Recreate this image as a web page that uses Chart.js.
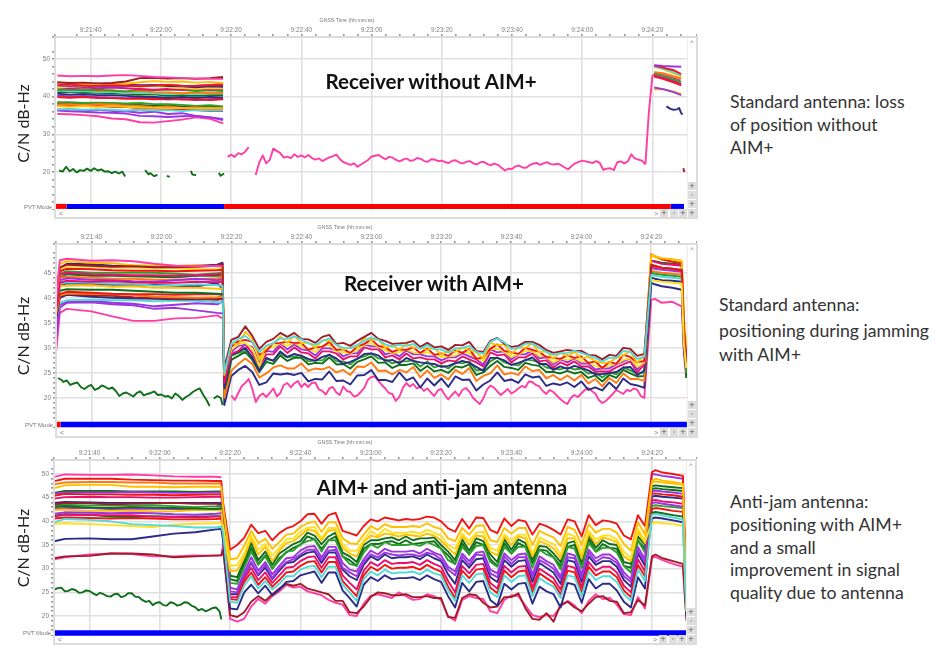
<!DOCTYPE html>
<html><head><meta charset="utf-8">
<script src="https://cdn.jsdelivr.net/npm/chart.js@4"></script>
<style>
html,body{margin:0;padding:0;background:#fff;width:940px;height:663px;overflow:hidden}
canvas{position:absolute;left:0;filter:blur(.4px)}
.t{position:absolute;white-space:nowrap;font-family:Lato,sans-serif;color:#1a1a1a}
.h{font-weight:700;font-size:20.6px;transform:translate(-50%,-50%);color:#111}
.n{font-size:17.7px;color:#333;transform:translateY(-50%)}
.s{font-family:"Liberation Sans",sans-serif;font-size:6px;color:#777;transform:translate(-50%,-50%);filter:blur(.25px)}
.frame{position:absolute;border:2px solid #dcdcdc;box-sizing:border-box;pointer-events:none}
.side{position:absolute;background:#fff;border-left:1px solid #eee;box-sizing:border-box}
.btn{position:absolute;width:8px;height:8px;background:#dedede;font:7px/8px "DejaVu Sans",sans-serif;color:#555;text-align:center}
</style></head><body>
<canvas id="c1" width="697" height="194" style="top:16px"></canvas>
<canvas id="c2" width="697" height="203" style="top:225px"></canvas>
<canvas id="c3" width="697" height="195" style="top:441px"></canvas>
<script>
const yTitle = "C/N dB-Hz";
const xTitle = "GNSS Time (hh:mm:ss)";
const C = {pink:"#ff3da5",red:"#f01515",dred:"#a01c28",orange:"#ff7a10",gold:"#ffc000",yellow:"#ffe020",green:"#2f9e2f",dgreen:"#0f6e1a",navy:"#2b2b88",purple:"#9c35e0",cyan:"#55d8d8",crim:"#e8106c"};

const jamT = [38,40,42,44,46,48,50,52,54,56,58,60,62,64,66,68,70,72,74,76,78,80,82,84,86,88,90,92,94,96,98,100,102,104,106,108,110,112,114,116,118,120,122,124,126,128,130,132,134,136,138,140,142,144,146,148,150,152,154,156,158];
const secT = [39,40,41,42,43,44,45,46,47,48,49,50,51,52,53,54,55,56,57,58,59,60,61,62,63,64,65,66,67,68,69,70,71,72,73,74,75,76,77,78,79,80,81,82,83,84,85,86,87,88,89,90,91,92,93,94,95,96,97,98,99,100,101,102,103,104,105,106,107,108,109,110,111,112,113,114,115,116,117,118,119,120,121,122,123,124,125,126,127,128,129,130,131,132,133,134,135,136,137,138,139,140,141,142,143,144,145,146,147,148,149,150,151,152,153,154,155,156,157,158];

/* ---------- panel 1: receiver without AIM+ ---------- */
const p1PreT = [-9.5,-6,-2,2,6,10,14,18,22,26,30,34,37.7];
const p1A = [45.6,45.4,45.5,45.4,45.6,45.7,45.5,45.2,45.1,44.9,44.8,44.7,44.7];
const p1B = [43.8,43.6,43.7,43.5,43.6,44,44.9,45,44.8,44.9,44.7,44.9,45.2];
const p1C = [43.5,43.7,43.4,43.3,43.5,43.4,43.8,44.1,43.9,44,43.7,43.9,43.6];
const p1D = [43.3,43.1,43,42.9,43.1,43,42.7,42.9,43.1,42.9,42.8,43,43];
const p1E = [42.9,42.7,42.9,42.6,42.8,42.7,43,42.9,43.1,42.8,42.9,43.1,43.4];
const p1F = [43.6,43.5,43.3,43.4,43.2,43.2,43,43.1,42.8,42.7,42.5,42.7,42.6];
const p1G = [42.5,42.6,42.8,43,42.8,42.9,42.6,42.8,42.5,42.3,42.1,42.3,42.2];
const p1H = [42.5,42.2,42.4,42.2,42.4,42.2,42,41.8,42,41.8,42.1,41.9,42];
const p1I = [41.8,41.9,41.7,41.8,41.6,41.4,41.9,41.7,41.9,41.8,41.5,41.7,41.5];
const p1J = [42.1,41.8,41.9,41.5,41.6,41.3,41.5,41.2,41.1,40.9,41.1,40.9,41];
const p1K = [41.6,41.4,41.5,41.2,41.3,40.9,41.1,40.9,40.7,40.9,40.7,40.9,40.9];
const p1L = [41.2,41.3,41.1,41,40.9,40.7,40.5,40.6,40.2,40.4,40.2,40.4,40.4];
const p1M = [40.8,40.5,40.7,40.4,40.4,40.2,40,39.9,39.7,39.9,39.7,39.9,39.8];
const p1N = [39.9,39.7,39.9,39.6,39.6,39.4,39.5,39.3,39.4,39.2,39.3,39.1,39.3];
const p1O = [40.4,40,40.2,39.9,39.8,39.6,39.8,39.4,39.2,39.4,39.1,39.3,39.5];
const p1P = [38.5,38.5,38.3,38.4,38.3,38.2,38.3,38,38,37.8,37.5,37.7,37.4];
const p1Q = [38.3,38.1,38.3,38,38,37.7,37.8,37.5,37.7,37.3,37.2,37.3,37.2];
const p1R = [38.1,37.9,38.1,37.8,37.9,37.6,37.4,37.3,37.1,37.2,36.9,37,36.9];
const p1S = [37.9,38,37.8,38,37.9,37.6,37.5,37.2,37.4,37,37.1,36.9,37];
const p1U = [37.7,37.8,37.6,37.6,37.4,37.2,37,36.9,37,36.7,36.8,36.6,36.6];
const p1V = [37.5,37.3,37.5,37.3,37.5,37.3,37.1,37,36.9,37,36.8,36.9,36.8];
const p1W = [38,37.7,37.8,37.5,37.3,37.3,37,36.9,36.6,36.4,36.4,36.2,36.2];
const p1X = [36.6,36.7,36.5,36.6,36.5,36.3,36.5,36.3,36.4,36.2,36.4,36.3,36.3];
const p1Y = [36.5,36.6,36.4,36.5,36.2,36.1,35.7,36,35.4,35.6,34.9,34.5,34.1];
const p1Z = [36.3,36.1,36,35.8,35.7,35.5,34.9,34.8,34.6,34.8,34.9,34.5,33.8];
const p1Low = [35.4,35.3,35.1,34.8,34.2,34,33.2,33.1,33.5,33.9,34.5,34.1,32.9];
const p1PostT = [160.5,163,166,168.2];
const p1Pa = [48.3,48.1,48,47.9];
const p1Pb = [48.2,47.7,47,46];
const p1Pc = [48,47.4,46.5,45.6];
const p1Pd = [47.9,47.3,46.2,45.4];
const p1Pe = [46.5,46.2,45.4,44.8];
const p1Pf = [46.1,45.5,44.6,43.9];
const p1Pg = [45.6,45,44.2,43.4];
const p1Ph = [45.3,44.7,43.8,43];
const p1Pi = [41.9,42,41.4,40.7];
const p1Pj = [42.4,42,41.2,40.4];
const p1NavyT = [164,165,166,167,167.6,168.2,168.6];
const p1Navy = [37.4,36.8,36.5,36.6,37,35.6,35.2];
const p1StubT = [168.8,169.1];
const p1Stub = [21,20];
const p1PinkHiT = [159,160,161,163,166,168];
const p1PinkHi = [36,45.5,46.1,46,45,44.3];
const p1Pink = [24,24.6,24,25,24.7,25.4,26.6,null,19.2,22.5,24.4,22.3,23.2,26.2,25.6,25,23.8,24.1,23.7,24.7,24,24.4,23.9,24.5,23.7,23.3,23.6,22.9,23.4,23.9,24.2,24.6,23.4,22.6,22.2,21.9,22.3,21.4,22,22.6,23.2,24.1,24.3,24.5,23.9,23.4,24,23.8,23.2,22.8,23.3,23.6,23,23.1,23.7,23.5,22.9,22.7,23.4,23.3,22.9,23,22.6,22.4,23,23.1,22.5,22.3,22.7,22.9,22.3,22,22.6,22.7,22.1,21.8,22.2,21.9,21.1,20.4,20.9,20.8,21.5,21.7,21.2,21.1,21.8,22.2,22.4,21.9,22.3,22.6,22.1,22,22.2,21.8,21.2,20.7,21.6,22.3,22.7,23,22.8,22.6,22.4,22.9,22.4,20.6,20.9,21,20.5,22.6,22.8,22.3,22.8,24.7,23.6,23.3,23,22];
const p1GreenT = [-9,-8,-7,-6,-5,-4,-3,-2,-1,0,1,2,3,4,5,6,7,8,9,9.8,10.5,15.5,16.5,17,18,19,20,21.7,22.5,24,28.5,29,30,32,36.5,37,38];
const p1Green = [20.4,20.1,21.4,20.2,20.8,19.9,20.5,20.3,20.9,20.3,21,20.4,20.7,20.1,20.2,19.7,20.1,19.6,20.1,18.8,null,20.5,19.4,19.7,18.9,19.2,null,19,18.7,null,20.3,19.3,19.2,null,19.8,19,19.6];
const p1PvtEdges = [-10.17,-6.9,38,165.2,169];
const p1PvtColors = ["#ff0000","#0000ff","#ff0000","#0000ff"];

/* ---------- panel 2: receiver with AIM+ ---------- */
const p2PreT = [-10,-9,-7,0,6,12,18,24,30,36,37.5];
const p2PostT = [160,161,163,166,168.7,169.3,170];
const p2DredPre = [41,46,46.6,46.4,46.2,46.3,46.1,46.1,46.2,46.4,46.8];
const p2DredJam = [26,31.6,32.2,34.3,32.4,29.8,31.2,31.8,33,32.2,33,31.8,31.7,31,32.2,32.6,30.8,31,30.4,31.4,32.2,33,31.8,31.4,30.8,30.9,31,31.4,30.2,31,30.1,30.3,29.6,30.6,30.5,31.2,29.4,29.2,31.4,32,30.8,30.2,30.4,31.2,31.2,30.6,29.6,29,29.3,29.6,29.4,29.4,28.6,28.5,27.7,28.6,28.4,30,29.8,28.4,28.8];
const p2DredPost = [46.6,46.4,46,45.8,45.6,34,28];
const p2CyanPre = [39,42.8,43.1,43,42.8,42.8,42.4,42.5,42.7,42.5,42.4];
const p2CyanJam = [25,30.8,31.8,32.4,31.2,29.2,30.4,31,31.9,31.8,32.3,31.7,30.9,30.6,31.4,31.9,30.6,30,29.9,30.6,31.4,32.1,31.6,30.7,30.3,30.6,30.4,30.8,29.8,30.6,29.7,29.7,29,29.9,30,30.4,29.2,28.8,31.2,31.9,31.1,29.8,30,30.8,30.9,30,29.2,28.6,28.9,29,29.4,29,28.5,28,27.3,28,28,29.4,29.2,27.8,28.2];
const p2CyanPost = [44.6,44.4,44.2,44,43.8,33,26];
const p2GoldPre = [38,46.8,47.3,47,46.9,46.5,46.4,46.4,46.5,46.3,46.3];
const p2GoldJam = [24.6,31,30.6,33.2,31.8,27.6,30.4,30.8,32.3,31,32.4,30.9,31.1,30,31.5,31.4,30.7,29.6,30.1,30.2,32,31.5,31.7,30,30.5,29.6,30.9,30,30.1,29.6,30,28.6,29.4,29.2,30,29.6,29.1,27.9,31,30.5,30.7,28.8,30.1,30,30.9,29.1,29.3,27.8,29.1,28.3,29.2,27.9,28.2,27.4,27,27.1,28,28.5,29.4,27,28.6];
const p2GoldPost = [48.6,48.3,47.9,47.7,47.4,36,30];
const p2RedPre = [38,45.3,45.8,45.7,45.5,45.4,45.4,45.3,45.4,45.5,45.6];
const p2RedJam = [24,30.3,31.3,31.6,31.2,28.6,29.4,30.9,31,31.2,31,31,29.6,30.1,30.2,31.2,29.6,29.7,29,30.3,30.8,31.7,30.4,30.1,29.2,29.7,29.6,30.1,29,29.9,28.6,28.9,28.4,29.5,29,29.8,27.8,28.1,29.8,30.7,29.4,29.1,28.8,30,29.6,29.2,28.2,28,27.8,28.5,28,28.3,27,27.3,26,27.2,26.8,28.6,28.2,27.1,27.4];
const p2RedPost = [48.7,48.3,47.7,47.2,46.9,33,28];
const p2YellowPre = [40,45.8,46.3,46.2,46,46,45.9,45.9,45.7,45.7,45.8];
const p2YellowJam = [25,29.6,30.8,31,29.9,26.4,29.9,30.1,31,30.4,31,30.3,29.8,29.2,30.4,30.6,29.3,29.1,28.9,29.6,30.7,30.9,30.3,29.5,29,29.1,29.7,29.1,28.9,29.1,28.7,28.2,28.3,28.5,29.2,28.9,28,27.4,29.7,29.8,29.3,28.2,28.7,29.4,29.4,28.4,28.3,27.1,27.8,27.6,28,27.3,27.2,26.4,26,26.5,26.8,27.6,27.9,26.2,27.1];
const p2YellowPost = [48.4,48.1,47.6,47.4,47.1,36,30];
const p2PurplePre = [40,43.5,43.9,43.6,43.5,43.3,43.2,43.5,43.8,43.5,43.7];
const p2PurpleJam = [24,29.2,30.4,30.6,30.2,27,29.4,29.2,30.9,29.7,30.7,29.7,29.5,28.5,29.9,29.9,29.5,28.3,28.9,28.9,30.7,30.3,30.3,28.7,29.1,28.3,29.5,28.7,28.7,28.3,28.3,27.5,28.1,28.1,28.9,28.3,27.7,26.7,29.7,29.1,29.3,27.7,28.7,28.7,29.5,27.9,28.1,26.7,27.7,27.1,27.9,26.9,26.9,25.7,25.9,25.9,26.7,27.3,27.9,25.7,27.3];
const p2PurplePost = [46,45.8,45.6,45.4,45.2,34,26];
const p2CrimPre = [39,44.6,45,44.7,44.6,44.5,44.5,44.4,44.5,44.7,44.7];
const p2CrimJam = [23,28.8,29.4,30.7,28.9,26.4,28.7,28.7,30.3,29,30.1,29.1,28.9,27.9,29.3,29.3,28.9,27.7,28.3,28.3,30.1,29.7,29.7,28.1,28.5,27.7,28.9,27.9,28.1,27.7,27.7,26.9,27.5,27.3,28.3,27.7,27.1,26.3,29.1,28.5,28.7,27.1,28.1,28.1,28.9,27.3,27.5,26.1,27.1,26.5,27.3,26.3,26.3,25.3,25.3,25.3,26.1,26.7,27.3,25.1,26.7];
const p2CrimPost = [47.4,47.2,46.8,46.6,46.4,35,27];
const p2BluePre = [38,42.4,42.9,42.8,42.6,42.6,42.6,42.4,42.3,42.9,41.8];
const p2BlueJam = [22,28.6,29.2,30,28,25.4,28,27.4,29.3,28.2,28.8,28.4,27.8,27.4,28.2,28.6,27.9,26.8,27.2,27.8,28.8,28.9,28.5,27.4,27.6,26.9,28,27.4,27.1,26.9,26.8,26.2,26.4,26.9,27.4,27,26.2,25.4,28,28,27.5,26.6,27,27.5,28.1,26.8,26.8,25.6,26.3,25.8,26.4,26,25.5,24.7,24.8,25,25.2,26.1,26.2,24.6,25.5];
const p2BluePost = [44,43.8,43.5,43.4,43.2,32,26];
const p2GreenPre = [41,44.8,45.3,45,45,45,45,44.8,44.6,44.9,45.1];
const p2GreenJam = [24,28.4,29,29.4,28.3,25.7,27.7,27.5,28.9,28.1,28.3,28.5,27.3,27.5,27.5,28.7,27.3,27.3,26.7,27.9,28.3,28.9,27.9,27.7,26.9,27.3,27.3,27.5,26.3,27.3,26.1,26.5,25.9,27.1,26.9,27.3,25.5,25.7,27.3,28.1,27.1,26.7,26.5,27.7,27.5,27.1,26.1,25.9,25.7,26.1,25.7,25.9,24.9,25.1,24.1,25.1,24.7,26.1,25.5,24.9,25.1];
const p2GreenPost = [45,44.8,44.6,44.4,44.2,33,25];
const p2DgreenPre = [41,44,44.7,44.4,44.4,44.3,44.2,44.1,44.4,44.4,44.5];
const p2DgreenJam = [20,27.6,28.4,29.2,27.6,25.2,27.2,26.8,28.5,27.4,28,28,26.7,27,26.9,28.1,26.7,26.8,25.9,27.2,27.7,28.3,27,27.1,26,26.6,26.6,26.9,25.4,26.4,25.3,25.6,25,26.3,26.1,26.7,24.6,25.1,26.4,27.4,26.2,26,25.6,27,26.6,26.4,25.2,25.2,24.9,25.4,24.9,25.2,24,24.5,23.3,24.6,24,25.6,24.9,24.3,24.4];
const p2DgreenPost = [47.4,47.3,47,46.8,46.6,36,24];
const p2OrangePre = [40,44,44.2,44,43.8,43.8,43.6,43.6,43.7,43.9,44];
const p2OrangeJam = [20,25.4,26.8,27.9,26.8,24.1,24.9,26.1,26.5,25.9,25.9,26.9,25.4,25.9,25.7,26.2,25.1,25.6,24.6,26.3,26.2,27.1,25.4,25.5,24.7,25.6,25.1,26.2,24.1,25.5,24,24.7,23.7,25.6,24.8,26,23.4,24.4,24.9,26.5,24.7,25,24.6,26.3,25.4,25.6,23.9,24.6,23.6,24.5,23.5,24.6,22.9,23.8,22.3,24,23,24.9,23.8,23.8,23.4];
const p2OrangePost = [45.4,45.2,45,44.8,44.6,33,25];
const p2NavyPre = [41,46,46.8,46.7,46.4,46.3,46.3,46.2,46.4,46.6,47];
const p2NavyJam = [18.6,24.4,25.6,26.4,25.2,22.6,23.1,24.9,24.7,24.9,24.6,25,23.3,23.8,23.7,25.3,23.4,23.5,22.7,24.5,24.6,25.6,23.6,23.6,23.2,25.1,23.5,24.1,22.1,23.9,22.5,23.9,22.2,24.3,23.6,23.7,21.5,22.7,23.5,25.1,23.4,23.7,23,24.7,24.1,24.3,22.4,22.9,22.6,23.1,22.2,23.3,21.6,22.1,21.5,23.1,21.8,23.9,22.8,22.5,22];
const p2NavyPost = [43,42.7,42.3,42,41.6,30,25];
const p2PinkPre = [29.5,37,37.8,37.3,36.3,35.4,35.4,35.9,36,36.5,35.9];
const p2Pink = [null,20.5,19.6,21,22.4,23,23.8,21.8,19.2,20.4,20.9,20.2,21,21.9,20.3,21,22.6,23,22.1,22.9,23.4,22.2,22.9,22.2,23,23.1,21.7,21.4,20.7,21.9,22.2,21.1,20.6,22.3,21.4,21.2,20.3,20.5,21.2,22,23.6,24.2,24.3,23.4,22.6,21.9,21,20.8,19.4,20.2,22,23,22.3,22.8,21.9,22.3,21.4,21.9,21.1,20.4,21.5,21.8,20.6,19.7,20.6,21.3,20.4,21.6,22,21.3,20.1,19.4,18.8,19.9,21.6,22.5,22.1,21.3,20.6,21.2,21.8,20.9,21.3,21.9,22.4,22.1,23.3,23.2,22.6,22.3,21.4,20.8,21.6,21.2,20.5,19.8,19.2,18.8,20,20.6,20.2,20.9,21.6,22,21.4,20.9,19.6,19,19.4,20.1,20.8,21.6,21.2,20.8,21.6,21.4,21.9,21.6,20.4,20];
const p2PinkPost = [39.6,39.8,39,39.2,38.3,29,24];
const p2X1 = [40,47.5,47.8,47.4,47.5,47.3,46.8,46.4,46.3,46.4,46.2];
const p2X3 = [38,43,43.4,43.2,43.3,43.1,43,43,43.2,43.1,43.2];
const p2X6 = [39,42.4,42.4,42.5,42.2,42.3,42,42,42,41.8,41.8];
const p2X7 = [39,41.4,41.7,41.6,41.6,41.4,41.2,41,41,40.8,40.7];
const p2X8 = [38,40.8,41.2,41,40.8,40.7,40.7,40.6,40.7,40.7,40.6];
const p2X9 = [37,40.5,40.8,40.8,40.7,40.6,40.2,40.1,40,40.1,40.3];
const p2X10 = [36,40.3,40.8,40.5,40.4,40.1,40,39.8,39.9,39.6,39.8];
const p2X11 = [36,40,40.6,40.2,40,39.9,39.8,39.7,39.7,39.7,39.8];
const p2X12 = [36,39,39.5,39.6,39.5,39.5,39.3,39.4,39.4,39.1,39];
const p2X13 = [34,38.6,39.2,39.4,39,38.8,38.3,38.6,38.9,38.7,39.3];
const p2X14 = [32,38,39,39.1,38.7,38.5,37.8,38,37.5,37,36.9];
const p2Y3 = [43.6,43.4,43.2,43,42.8,31,26];
const p2Y4 = [46.4,46.2,46,45.8,45.4,34,27];
const p2LowT = [-9.5,-8.5,-8,-7,-6,-5,-4,-3,-2,-1,0,1,2,3,4,5,6,7,8,9,10,11,12,13,14,15,16,17,18,19,20,21,22,23,24,25,26,27,28,29,30,31,32,33,33.8,34.5,35,36,37,37.5];
const p2Low = [24,23.6,23.2,23.5,22.6,22.9,23.1,22.2,21.8,22.3,22.6,21.6,21.9,22.5,22.2,21.8,22.1,21.4,20.4,20.9,21.1,20.7,20.3,21,21.3,20.5,20.8,21,21.3,20.6,20.7,20.3,20.4,19.9,20.9,20.4,19.6,20.2,20.6,21.2,21.6,21.9,20.6,19.5,18.4,null,19.9,20.4,20,18.6];
const p2PvtEdges = [-10.09,-8.8,170.4];
const p2PvtColors = ["#ff0000","#0000ff"];

/* ---------- panel 3: AIM+ and anti-jam antenna ---------- */
const p3PreT = [-10,-7,0,6,12,18,24,30,36,37.5];
const p3PostT = [160,161,163,166,168.8,169.8];
const p3RedPre = [48.5,49,49,49,48.8,48.7,48.6,48.6,48.5,48.5];
const p3RedJam = [44,34,35,36.5,39.3,37.5,38,36,37.5,38.5,39,40,41.5,41.6,39.5,41.3,41.8,38,37.5,37,39,40.4,40,40.8,40.5,40.2,40.5,40.3,40.5,41,40.8,40,38.5,37.8,40.5,38.5,40.8,40.7,38.2,37.5,40.6,39,40.3,40,37.2,39.5,39,38.2,37.2,40.4,40,36.8,41.3,39.2,40.2,40,39.5,37,36.2,41.3,39];
const p3RedPost = [50.4,50.8,50.3,50,49.6,24];
const p3GoldPre = [47,47.6,47.7,47.7,47.3,47.3,47.2,47.3,47.3,47.3];
const p3GoldJam = [43,32,32.2,34.8,38,35.4,36.3,34.2,35.6,37.2,37.4,38.8,39.6,40,37.8,39.8,39.8,36.4,35.4,35.2,37.2,39,38.2,39.4,38.8,38.8,38.8,39,38.8,39.6,38.8,38.4,36.4,35.8,38.6,37.2,39,39.2,36,35.6,38.6,37.4,38.6,38.6,35,38,37.2,36.6,34.8,38.8,38.2,35,39.4,37.6,38.4,38.4,37.6,35.2,33.8,39.8,37.2];
const p3GoldPost = [48.5,49,48.6,48.3,47.9,22];
const p3YellowPre = [39.5,39.6,39.4,39.2,39,38.8,39.3,39.5,39.6,39.6];
const p3YellowJam = [39,30.5,30.8,33.2,37,34,35.2,32.8,34.4,36.2,36.4,37.8,38.6,38.8,36.4,38.6,38.6,35.2,33.8,33.8,36,38,37,38.4,37.6,37.6,37.6,37.8,37.4,38.2,37.6,37,35,34.2,37.4,35.8,37.6,37.8,34.4,33.8,37.2,36,37.2,37.2,33.2,36.6,35.8,35.2,33,37.4,36.8,33.2,38,36.2,37,37,36.2,33.6,32.2,38.4,35.8];
const p3YellowPost = [39.6,39.8,39.6,39.4,39,21];
const p3Gold2Pre = [42.4,42.5,42.2,42.2,42.3,42.1,42.1,42.4,42.4,42.3];
const p3Gold2Jam = [38,29.5,29.6,32.4,36.4,33,34.6,31.6,33.8,35.4,35.8,37,38.2,38,36,38,38.2,34.4,33.2,32.6,35.6,37,36.6,37.4,37.2,36.8,37.2,37,36.8,37.4,37,36,34.4,33,37,35,37,36.8,33.6,32.8,36.8,35,36.8,36.4,32.6,35.8,35.2,34.2,32.2,36.4,36.4,32.2,37.4,35.2,36.6,36.2,35.6,32.6,31.6,37.8,35.4];
const p3Gold2Post = [48.3,48.4,48.2,48,47.7,21];
const p3DgreenPre = [46,46.4,46.4,46.4,46.3,46.3,46.3,46.2,46.3,46.3];
const p3DgreenJam = [41,28.5,28.2,31.6,35.4,31.8,33.6,30.8,33.2,34.2,35.2,35.8,37.6,37,35.2,36.8,37.6,33.4,32.6,31.4,35,36,36,36.4,36.6,36,36.8,36,36.4,36.4,36.6,35,33.6,31.8,36.2,33.8,36.4,35.8,33,31.4,36.2,34,36.2,35.4,32,34.8,34.6,33.2,31.4,35.4,35.8,31,37,34.4,36,35.2,35,31.4,31,36.8,35];
const p3DgreenPost = [47.4,47.6,47.4,47.2,47,21];
const p3Dgreen2Pre = [41.2,41.5,41.4,41,40.9,41.1,41,41,41.1,41.1];
const p3Dgreen2Jam = [39,27.8,27.4,30.8,34.4,31,32.8,30,32.2,33.4,34.4,35,36.8,36.2,34.2,36,36.8,32.6,31.8,30.6,34.2,35.2,35.2,35.6,35.8,35.2,36,35.2,35.4,35.6,35.8,34.2,32.8,31,35.4,33,35.6,35,32,30.6,35.4,33.2,35.4,34.6,31.2,34,33.8,32.4,30.6,34.6,35,30.2,36.2,33.6,35.2,34.4,34.2,30.6,30.2,36,34.2];
const p3Dgreen2Post = [46.8,47,46.8,46.6,46.4,21];
const p3GreenPre = [43.4,43.5,43.3,43.4,43.3,43.4,43.2,43,43.2,43.3];
const p3GreenJam = [40,27,26.8,30.2,33.6,30.8,32.6,30,31.8,33.6,33.8,35.2,35.8,36.2,33.6,36,36,32.6,31,30.6,33.4,35.2,34.4,35.6,35,35,35,35.2,34.8,35.6,35,34.2,31.8,31,34.6,33,34.8,35,31.4,30.4,34.6,33.2,34.6,34.6,30.2,34,33,32.4,29.8,34.6,34.2,30.2,35.4,33.6,34.4,34.4,33.4,30.6,29.2,36,33.4];
const p3GreenPost = [43.2,43.4,43.2,43,42.8,22];
const p3PurplePre = [42.6,42.8,42.8,42.6,42.6,42.7,42.6,42.4,42.7,42.7];
const p3PurpleJam = [39.5,26,25.6,29.2,32.4,29.6,31.4,28.8,30.6,32.2,32.4,33.8,34.6,34.8,32.4,34.6,34.6,31.2,29.8,29.4,32,33.8,33,34.2,33.6,33.6,33.6,33.8,33.2,34.2,33.4,32.8,30.4,29.4,33.2,31.6,33.4,33.6,29.8,29,33.2,31.8,33,33.2,28.8,32.6,31.6,30.8,28.4,33.2,32.8,28.8,34,32.2,33,33,31.8,29.2,27.8,34.6,32];
const p3PurplePost = [50,49.9,49.6,49.3,49,22];
const p3Purple2Pre = [45.8,46.1,46.1,46.1,46.2,46.1,46,46,46.1,46.1];
const p3Purple2Jam = [38.5,25.2,25,28.4,31.4,28.8,30.8,28,30,31.4,32,33,34,34,31.8,33.8,34,30.2,29.2,28.4,31.4,33,32.4,33.4,33,32.8,33,33,32.6,33.4,33,32,29.8,28.6,32.6,30.8,33,32.8,29,28.2,32.6,31,32.4,32.4,28.2,31.8,31,30,27.8,32.4,32.2,28,33.4,31.4,32.4,32.2,31.2,28.4,27.2,33.8,31.4];
const p3Purple2Post = [46.3,46.5,46.3,46.1,45.8,22];
const p3NavyPre = [35.8,36.3,36.4,36.2,36.2,36.8,37.4,37.7,38.3,38.4];
const p3NavyJam = [36,24.6,24.6,28.4,31.2,28.6,30.2,27.8,29.6,31.2,31.4,32.6,33.4,33.6,31.2,33.4,33.4,29.8,28.4,27.6,30.8,32.6,31.8,33,32.2,32.4,32.4,32.6,32,33,32.2,31.6,28.8,26.8,31.8,30.2,32,32.2,28.2,27.2,31.8,30.4,31.6,31.8,27.2,31.2,30.2,29.2,26.8,31.8,31.4,27.2,32.6,30.8,31.6,31.6,30.4,27.6,26.2,33.2,30.6];
const p3NavyPost = [40.6,40.8,40.6,40.2,39.8,20];
const p3CrimPre = [41,41.4,41.3,41.3,41.3,41,40.9,40.8,41,41];
const p3CrimJam = [38.5,24,24,27.8,30.2,27.6,29.2,27,28.6,30.2,30.4,31.6,32.4,32.6,30.2,32.4,32.4,28.6,27,25.6,29.6,31.4,30.6,31.8,31,31.2,31.2,31.4,30.8,31.8,31,30.4,27.4,25,30.6,29,30.8,31,27,25.8,30.6,29.2,30.4,30.6,26,30,29,28,25.6,30.6,30.2,26,31.4,29.6,30.4,30.4,29.2,26.4,25,32,29.4];
const p3CrimPost = [44.4,44.5,44.2,44,43.7,23];
const p3Red2Pre = [40.6,40.8,40.7,40.6,40.7,40.6,40.4,40.4,40.5,40.6];
const p3Red2Jam = [38,23.6,23.4,27.2,29.2,26.6,28.2,26.2,27.6,29.2,29.4,30.6,31.4,31.6,29.2,31.4,31.4,27.4,25.8,24.2,28.6,30.4,29.6,30.8,30,30.2,30.2,30.4,29.8,30.8,30,29.4,26.2,23.8,29.6,28,29.8,30,26,24.8,29.6,28.2,29.4,29.6,25,29,28,27,24.6,29.6,29.2,25,30.4,28.6,29.4,29.4,28.2,25.4,24,30.8,28.4];
const p3Red2Post = [42.6,42.8,42.6,42.2,42,22];
const p3CyanPre = [39.8,40.5,40.3,40,39.4,39.2,39,38.7,38.7,38.9];
const p3CyanJam = [37.5,23,22.8,26.4,28.4,25.8,27.4,25.6,26.8,28.4,28.4,29.8,30.4,30.6,28.2,30.4,30.4,26.6,25,23.2,27.8,29.4,28.6,29.8,29,29.2,29.2,29.4,28.8,29.8,29,28.6,25.4,23.2,28.6,27,28.8,29,25,24,28.6,27.2,28.4,28.6,24.2,28,27,26.2,23.8,28.6,28.2,24.2,29.4,27.6,28.4,28.4,27.2,24.6,23.2,29.8,27.4];
const p3CyanPost = [41.4,41.6,41.2,40.8,40.4,21];
const p3Navy2Pre = [43.9,44.1,44,43.9,43.9,43.9,43.9,43.9,43.9,43.9];
const p3Navy2Jam = [36,21.6,21.4,25,26.6,24.8,26.4,24.4,25.6,27.2,27.4,28.6,29,29.4,27,29.2,29.2,25.4,23.8,22,26.6,28.2,27.4,28.6,27.8,28,28,28.2,27.6,28.6,27.8,27.2,24.2,21.8,27,25.2,27.2,27.4,23.4,22.2,26.8,25.6,26.8,27,22.6,26.2,25.2,24.6,21.8,27,26.6,22.8,27.8,25.8,26.8,26.8,25.4,23,21.8,28.2,25.8];
const p3Navy2Post = [45.2,45.4,45.2,45,44.8,20];
const p3PinkPre = [32,32.4,33,33.2,33.1,32.6,32.6,32.8,32.7,32.8];
const p3PinkJam = [35,19.4,18.8,19.4,22,23.6,22.6,24.2,25.2,26.6,26,26.2,25.2,24.8,24.4,23.4,22.8,22.4,20.2,20,22.6,24.3,24.6,24.2,23.8,25,24.2,23.4,23.6,24.6,24.2,23.4,20,19,23.4,24.2,23.8,23.6,21,20.6,23.4,24.4,24.2,22.2,20.2,19.8,20.2,20,22,23.2,22.2,20.6,23.2,24.6,23.6,23.8,22.4,20.4,20.2,24,21.6];
const p3PinkPost = [32.3,32.5,31.8,31,30.4,19.5];
const p3DredPre = [32.2,32.6,32.7,33.2,33.2,33,32.4,32.6,32.8,32.8];
const p3DredJam = [34,20.2,19.8,20.8,23,24.2,23.2,24.6,25.8,26.8,26.4,26.8,25.8,25.4,25,24.6,23.2,23.2,20.8,20.6,22,24,25,24.8,24.4,24.4,24.6,24,24,24.2,23.8,23.8,19.8,19.6,23.8,24.6,24.4,22.8,21.8,22,24,24,24.8,21.6,19.4,19.2,20.6,18.8,22.4,23,21.8,21,22.6,24,24.2,23.2,23,20.6,20.8,23.4,22.2];
const p3DredPost = [32.6,33,32.2,31.6,31,19];
const p3X1 = [49.4,49.9,49.8,49.8,49.9,49.7,49.5,49.4,49.4,49.3];
const p3X2 = [47.8,48.2,48.3,48.3,48.2,48.2,48,48,48,48];
const p3X4 = [45.4,45.8,45.7,45.7,45.6,45.6,45.5,45.6,45.7,45.7];
const p3X5 = [44.8,45.1,45.2,45.1,45.1,45,45,45.1,45.2,45.2];
const p3X6 = [43.6,43.9,43.8,43.6,43.7,43.8,43.9,43.7,43.7,43.6];
const p3X7 = [43,43.2,42.9,42.8,43,42.9,42.8,42.7,42.6,42.7];
const p3X9 = [41.6,41.9,41.8,41.7,41.8,41.7,41.5,41.4,41.6,41.7];
const p3Y4 = [45.8,45.9,45.7,45.5,45.2];
const p3Y5 = [43.8,44,43.7,43.4,43.1];
const p3Y6 = [41.8,42,41.7,41.3,41];
const p3Post5T = [160,161,163,166,168.8];
const p3LowT = [-10,-9,-8,-7,-6,-5,-4,-3,-2,-1,0,1,2,3,4,5,6,7,8,9,10,11,12,13,14,15,16,17,18,19,20,21,22,23,24,25,26,27,28,29,30,31,32,33,34,35,36,37,37.5];
const p3Low = [25.6,25.9,26,25.2,25.3,25.7,25.5,24.9,25,25.4,25.3,24.8,24.4,24.9,24.6,24.2,24.1,24.6,24.7,24,24.2,24.8,24.8,24.1,24,23.4,23,23.2,22.3,22.8,22.9,22.3,22.2,22.9,22.7,22.2,22.4,22.9,22.8,22.2,21.9,21.2,21.5,21,21.3,21.7,21.8,21,19.3];
const p3PvtEdges = [-10.09,170.4];
const p3PvtColors = ["#0000ff"];

/* ---------- assembly ---------- */
const p2T = [...p2PreT, ...jamT, ...p2PostT];
const p2PinkT = [...p2PreT, ...secT, ...p2PostT];
const p3T = [...p3PreT, ...jamT, ...p3PostT];
const line = (t, v, color, w) => ({
  data: v.map((y, i) => ({x: t[i], y})), borderColor: color, borderWidth: w || 1.9,
  pointRadius: 0, fill: false, tension: 0, spanGaps: false, borderJoinStyle: "round"
});
const full = (t, color, ...parts) => line(t, [].concat(...parts), color);
const strip = (edges, colors, y, w) => colors.map((c, i) => line([edges[i], edges[i+1]], [y, y], c, w));
const pad = (n) => String(n).padStart(2, "0");
const fmt = (s) => { const t = 33700 + s; return Math.floor(t/3600) + ":" + pad(Math.floor(t%3600/60)) + ":" + pad(t%60); };
const noPad = (s) => { s.paddingTop = 0; s.paddingBottom = 0; s.paddingLeft = 0; s.paddingRight = 0; };

function panel(id, H, L, xmin, xmax, ymin, ymax, ystep, isLabel, datasets) {
  new Chart(document.getElementById(id), {
    type: "line",
    data: {datasets},
    options: {
      responsive: false, animation: false, events: [],
      layout: {padding: 0, autoPadding: false},
      plugins: {legend: {display: false}, tooltip: {enabled: false}},
      scales: {
        x: {
          type: "linear", position: "top", min: xmin, max: xmax, afterFit: s => { s.height = H; noPad(s); },
          border: {color: "#d8d8d8", width: 1},
          grid: {color: c => c.tick && c.tick.value % 20 === 0 ? "#e0e0e0" : "rgba(0,0,0,0)", lineWidth: 1.6, tickColor: "#999", tickLength: 3, drawTicks: true},
          ticks: {stepSize: 4, autoSkip: false, maxRotation: 0, padding: 0, color: "#808080", font: {family: "Liberation Sans", size: 6.5}, callback: v => v % 20 === 0 ? fmt(v) : ""}
        },
        y: {
          min: ymin, max: ymax, afterFit: s => { s.width = L; noPad(s); },
          border: {color: "#d8d8d8", width: 1},
          grid: {color: c => c.tick && isLabel(c.tick.value) ? "#e0e0e0" : "rgba(0,0,0,0)", lineWidth: 1.6, tickColor: "#999", tickLength: 3},
          ticks: {stepSize: ystep, autoSkip: false, padding: 2, color: "#808080", font: {family: "Liberation Sans", size: 6.5}, callback: v => isLabel(v) ? String(v) : ""},
          title: {display: true, text: yTitle, color: "#222", font: {family: "Lato", size: 16}, padding: {top: 14, bottom: 0}}
        }
      }
    }
  });
}

const p1Sets = [
  ...[[p1A,C.pink],[p1B,C.dred],[p1C,C.gold],[p1D,C.red],[p1E,C.purple],[p1F,C.navy],[p1G,C.yellow],[p1H,C.crim],[p1I,C.green],[p1J,C.orange],[p1K,C.cyan],[p1L,C.dgreen],[p1M,C.navy],[p1N,C.red],[p1O,C.purple],[p1X,C.cyan],[p1V,C.gold],[p1S,C.orange],[p1P,C.green],[p1U,C.red],[p1W,C.crim],[p1R,C.navy],[p1Q,C.dgreen],[p1Y,C.purple],[p1Z,C.purple],[p1Low,C.pink]].map(a => line(p1PreT, a[0], a[1])),
  ...[[p1Pa,C.purple],[p1Pb,C.red],[p1Pc,C.cyan],[p1Pd,C.gold],[p1Pe,C.orange],[p1Pf,C.green],[p1Pg,C.crim],[p1Ph,C.red],[p1Pj,C.purple],[p1Pi,C.gold]].map(a => line(p1PostT, a[0], a[1])),
  line(p1NavyT, p1Navy, C.navy), line(p1StubT, p1Stub, C.dred),
  line(secT, p1Pink, C.pink), line([158, ...p1PinkHiT], [22, ...p1PinkHi], C.pink), line(p1GreenT, p1Green, C.dgreen),
  ...strip(p1PvtEdges, p1PvtColors, 10.87, 5)
];

const p2Sets = [
  ...[[p2X1,C.pink],[p2X3,C.crim],[p2X6,C.gold],[p2X7,C.dgreen],[p2X8,C.red],[p2X9,C.orange],[p2X10,C.dred],[p2X11,C.navy],[p2X12,C.cyan],[p2X13,C.purple],[p2X14,C.purple]].map(a => line(p2PreT, a[0], a[1])),
  ...[[p2Y3,C.yellow],[p2Y4,C.red]].map(a => line(p2PostT, a[0], a[1])),
  full(p2T,C.cyan,p2CyanPre,p2CyanJam,p2CyanPost),
  full(p2T,C.dred,p2DredPre,p2DredJam,p2DredPost),
  full(p2T,C.gold,p2GoldPre,p2GoldJam,p2GoldPost),
  full(p2T,C.red,p2RedPre,p2RedJam,p2RedPost),
  full(p2T,C.yellow,p2YellowPre,p2YellowJam,p2YellowPost),
  full(p2T,C.purple,p2PurplePre,p2PurpleJam,p2PurplePost),
  full(p2T,C.crim,p2CrimPre,p2CrimJam,p2CrimPost),
  full(p2T,C.navy,p2BluePre,p2BlueJam,p2BluePost),
  full(p2T,C.green,p2GreenPre,p2GreenJam,p2GreenPost),
  full(p2T,C.orange,p2OrangePre,p2OrangeJam,p2OrangePost),
  full(p2T,C.dgreen,p2DgreenPre,p2DgreenJam,p2DgreenPost),
  full(p2T,C.navy,p2NavyPre,p2NavyJam,p2NavyPost),
  full(p2PinkT,C.pink,p2PinkPre,p2Pink,p2PinkPost),
  line(p2LowT, p2Low, C.dgreen),
  line([170.4,170.4],[14.1,50.7],"#ff9c9c",1.6),
  ...strip(p2PvtEdges, p2PvtColors, 14.71, 5.5)
];

const p3Sets = [
  ...[[p3X1,C.pink],[p3X2,C.orange],[p3X4,C.red],[p3X5,C.crim],[p3X6,C.dred],[p3X7,C.dgreen],[p3X9,C.purple]].map(a => line(p3PreT, a[0], a[1])),
  ...[[p3Y4,C.red],[p3Y5,C.purple],[p3Y6,C.dgreen]].map(a => line(p3Post5T, a[0], a[1])),
  full(p3T,C.cyan,p3CyanPre,p3CyanJam,p3CyanPost),
  full(p3T,C.yellow,p3YellowPre,p3YellowJam,p3YellowPost),
  full(p3T,C.gold,p3Gold2Pre,p3Gold2Jam,p3Gold2Post),
  full(p3T,C.gold,p3GoldPre,p3GoldJam,p3GoldPost),
  full(p3T,C.red,p3RedPre,p3RedJam,p3RedPost),
  full(p3T,C.red,p3Red2Pre,p3Red2Jam,p3Red2Post),
  full(p3T,C.purple,p3PurplePre,p3PurpleJam,p3PurplePost),
  full(p3T,C.green,p3GreenPre,p3GreenJam,p3GreenPost),
  full(p3T,C.crim,p3CrimPre,p3CrimJam,p3CrimPost),
  full(p3T,C.purple,p3Purple2Pre,p3Purple2Jam,p3Purple2Post),
  full(p3T,C.navy,p3NavyPre,p3NavyJam,p3NavyPost),
  full(p3T,C.navy,p3Navy2Pre,p3Navy2Jam,p3Navy2Post),
  full(p3T,C.dgreen,p3Dgreen2Pre,p3Dgreen2Jam,p3Dgreen2Post),
  full(p3T,C.dgreen,p3DgreenPre,p3DgreenJam,p3DgreenPost),
  full(p3T,C.dred,p3DredPre,p3DredJam,p3DredPost),
  full(p3T,C.pink,p3PinkPre,p3PinkJam,p3PinkPost),
  line(p3LowT, p3Low, C.dgreen),
  line([170.4,170.4],[15.8,52.9],"#ff9c9c",1.6),
  ...strip(p3PvtEdges, p3PvtColors, 16.41, 5.5)
];

panel("c1", 21, 55, -10.17, 172.7, 9.92, 55.81, 2, v => v % 10 === 0 && v >= 20 && v <= 50, p1Sets);
panel("c2", 19, 56, -10.09, 173.06, 14.01, 50.74, 1, v => v % 5 === 0 && v >= 20 && v <= 45, p2Sets);
panel("c3", 19, 54, -10.09, 172.8, 15.78, 52.95, 1, v => v % 5 === 0 && v >= 20 && v <= 50, p3Sets);

/* ---------- page furniture and captions ---------- */
function el(cls, css, text) {
  const d = document.createElement("div");
  d.className = cls; d.style.cssText = css; if (text) d.textContent = text;
  document.body.appendChild(d); return d;
}
const furniture = [
  {left:55, top:37, right:697, bottom:218, strip:206.5, tx:347, ty:20},
  {left:56, top:244, right:697, bottom:437, strip:424.5, tx:345, ty:227},
  {left:54, top:460, right:696, bottom:644, strip:633, tx:345, ty:442}
];
furniture.forEach(f => {
  el("side", `left:${f.right-10}px;top:${f.top}px;width:10px;height:${f.bottom-f.top}px`);
  el("side", `left:${f.left}px;top:${f.strip+3.5}px;width:${f.right-f.left}px;height:${f.bottom-f.strip-3.5}px;border-left:none`);
  el("frame", `left:${f.left-1}px;top:${f.top-1}px;width:${f.right-f.left+2}px;height:${f.bottom-f.top+2}px`);
  el("t s", `left:${f.left-17}px;top:${f.strip}px`, "PVT Mode");
  el("t s", `left:${f.tx}px;top:${f.ty}px;font-size:5.2px`, xTitle);
  el("t s", `left:${f.left+6}px;top:${f.bottom-5}px;font-size:7px`, "<");
  el("t s", `left:${f.right-41}px;top:${f.bottom-5}px;font-size:7px`, ">");
  el("t s", `left:${f.right-5}px;top:${f.top+5}px;font-size:7px`, "^");
  [["+",-37],["-",-27],["+",-18],["+",-9]].forEach(b => el("btn", `left:${f.right+b[1]}px;top:${f.bottom-9}px`, b[0]));
  [["+",-36],["-",-27],["+",-18]].forEach(b => el("btn", `left:${f.right-9}px;top:${f.bottom+b[1]}px`, b[0]));
});
el("t h", "left:431px;top:81px", "Receiver without AIM+");
el("t h", "left:434px;top:283px", "Receiver with AIM+");
el("t h", "left:442px;top:487px", "AIM+ and anti-jam antenna");
[["Standard antenna: loss",730,101],["of position without",730,124],["AIM+",730,147],
 ["Standard antenna:",719,304],["positioning during jamming",719,330],["with AIM+",719,354],
 ["Anti-jam antenna:",730,501],["positioning with AIM+",730,524],["and a small",730,547],["improvement in signal",730,569],["quality due to antenna",730,592]
].forEach(n => el("t n", `left:${n[1]}px;top:${n[2]}px`, n[0]));
</script>
</body></html>
